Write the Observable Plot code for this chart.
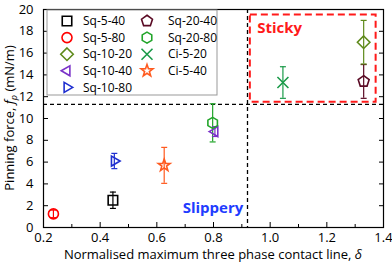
<!DOCTYPE html>
<html><head><meta charset="utf-8">
<script src="https://cdn.jsdelivr.net/npm/d3@7"></script>
<script src="https://cdn.jsdelivr.net/npm/@observablehq/plot@0.6"></script>
<style>body{margin:0;background:#fff}</style>
</head><body><div id="chart"></div>
<script>
// ---- data ----
const series = ["Sq-5-40","Sq-5-80","Sq-10-20","Sq-10-40","Sq-10-80","Sq-20-40","Sq-20-80","Ci-5-20","Ci-5-40"];
const delta  = [0.445, 0.235, 1.33, 0.805, 0.45, 1.33, 0.797, 1.045, 0.626];
const force  = [2.5, 1.25, 17.0, 8.8, 6.1, 13.4, 9.6, 13.3, 5.7];
const errors = [0.75, 0.35, 2.0, 0.45, 0.7, 1.55, 1.75, 1.45, 1.65];
const colors = ["#000000","#ff0000","#5e8a1a","#7a32c8","#1f2fd0","#5a0a24","#22a52a","#1a9a48","#ff5a1f"];
const shapes = ["square","circle","diamond","triLeft","triRight","pentagon","hexagon","times","star"];
const xTicks = [0.2,0.4,0.6,0.8,1.0,1.2,1.4];
const xMinor = [0.3,0.5,0.7,0.9,1.1,1.3];
const yTicks = [0,2,4,6,8,10,12,14,16,18,20];
const thresholdForce = [11.3];
const thresholdDelta = [0.92];
const stickyBox = [{x1:0.93, x2:1.374, y1:11.5, y2:19.5}];
const stickyNote = [{x:0.954, y:18.3, t:"Sticky"}];
const slipperyNote = [{x:0.905, y:1.75, t:"Slippery"}];

// ---- custom symbols ----
function poly(pts){return {draw(ctx,size){const r=Math.sqrt(size/Math.PI);pts.forEach(([a,b],i)=>i?ctx.lineTo(a*r,b*r):ctx.moveTo(a*r,b*r));ctx.closePath();}};}
function regular(n,rot,k){return poly(d3.range(n).map(i=>{const a=rot+2*Math.PI*i/n;return [k*Math.cos(a),k*Math.sin(a)];}));}
const SYM = {
  square: poly([[-0.95,-0.95],[0.95,-0.95],[0.95,0.95],[-0.95,0.95]]),
  circle: {draw(ctx,size){const r=Math.sqrt(size/Math.PI);ctx.moveTo(r,0);ctx.arc(0,0,r,0,2*Math.PI);}},
  diamond: poly([[0,-1.25],[1.25,0],[0,1.25],[-1.25,0]]),
  triLeft: regular(3,Math.PI,1.15),
  triRight: regular(3,0,1.15),
  pentagon: regular(5,-Math.PI/2,1.15),
  hexagon: regular(6,-Math.PI/2,1.1),
  times: {draw(ctx,size){const a=Math.sqrt(size/Math.PI)*1.1;ctx.moveTo(-a,-a);ctx.lineTo(a,a);ctx.moveTo(-a,a);ctx.lineTo(a,-a);}},
  star: poly(d3.range(10).map(i=>{const a=-Math.PI/2+Math.PI*i/5;const k=i%2?0.5:1.25;return [k*Math.cos(a),k*Math.sin(a)];}))
};
const CAP = {draw(ctx){ctx.moveTo(-3,0);ctx.lineTo(3,0);}};

const data = series.map((s,i)=>({s, x:delta[i], y:force[i], e:errors[i], c:colors[i], sym:SYM[shapes[i]]}));

const marks = [
  Plot.ruleY(thresholdForce, {stroke:"#000", strokeWidth:1.3, strokeDasharray:"4,3"}),
  Plot.ruleX(thresholdDelta, {stroke:"#000", strokeWidth:1.3, strokeDasharray:"4,3"}),
  Plot.rect(stickyBox, {x1:"x1", x2:"x2", y1:"y1", y2:"y2", fill:"none", stroke:"#ff1a1a", strokeWidth:2, strokeDasharray:"7,4"}),
  Plot.ruleX(data, {x:"x", y1:d=>d.y-d.e, y2:d=>d.y+d.e, stroke:"c", strokeWidth:1.2}),
  Plot.dot(data, {x:"x", y:d=>d.y+d.e, stroke:"c", symbol:CAP, strokeWidth:1.2}),
  Plot.dot(data, {x:"x", y:d=>d.y-d.e, stroke:"c", symbol:CAP, strokeWidth:1.2}),
  ...data.map(d=>Plot.dot([d], {x:"x", y:"y", r:5, symbol:d.sym, stroke:d.c, fill:"none", strokeWidth:1.6})),
  Plot.text(stickyNote, {x:"x", y:"y", text:"t", fill:"#ff1a1a", textAnchor:"start", fontWeight:"bold", fontSize:15}),
  Plot.text(slipperyNote, {x:"x", y:"y", text:"t", fill:"#1f3cff", textAnchor:"end", fontWeight:"bold", fontSize:15}),
  Plot.axisX({ticks:xTicks, tickSize:0, tickPadding:5, tickFormat:d3.format(".1f"), label:null}),
  Plot.axisX({ticks:xTicks, tickSize:-5, text:null, label:null}),
  Plot.axisX({ticks:xMinor, tickSize:-3, text:null, label:null}),
  Plot.axisY({ticks:yTicks, tickSize:0, tickPadding:10, tickFormat:d3.format("d"), label:null}),
  Plot.axisY({ticks:yTicks, tickSize:-5, text:null, label:null}),
  Plot.axisY({ticks:yTicks, anchor:"right", tickSize:-5, text:null, label:null}),
  Plot.frame({stroke:"#000", strokeWidth:1.2})
];

const chart = Plot.plot({
  width:392, height:267,
  marginLeft:43, marginRight:9, marginTop:9, marginBottom:40,
  x:{domain:[0.2,1.4]},
  y:{domain:[0,20]},
  style:{fontFamily:"Open Sans", fontSize:"13px", color:"#000", background:"#fff"},
  marks
});
document.getElementById("chart").appendChild(chart);

// ---- axis titles ----
const svg = d3.select(chart);
const xs = chart.scale("x"), ys = chart.scale("y");
const cx = (xs.range[0]+xs.range[1])/2, cy = (ys.range[0]+ys.range[1])/2;
const xt = svg.append("text").attr("x",cx).attr("y",259).attr("text-anchor","middle")
  .attr("font-family","Open Sans").attr("font-size",13).attr("fill","#000");
xt.append("tspan").text("Normalised maximum three phase contact line, ");
xt.append("tspan").attr("font-style","italic").text("δ");
const yt = svg.append("text").attr("transform",`translate(14,${cy}) rotate(-90)`).attr("text-anchor","middle")
  .attr("font-family","Open Sans").attr("font-size",13).attr("fill","#000");
yt.append("tspan").text("Pinning force, ");
yt.append("tspan").attr("font-style","italic").text("f");
yt.append("tspan").attr("font-style","italic").attr("font-size",9).attr("dy",3).text("p");
yt.append("tspan").attr("dy",-3).text(" (mN/m)");

// ---- legend ----
const lg = svg.append("g").attr("text-anchor","start");
lg.append("rect").attr("x",47).attr("y",10).attr("width",170).attr("height",85)
  .attr("fill","#fff").attr("stroke","#999").attr("stroke-width",1);
data.forEach((d,i)=>{
  const col = i<5?0:1, row = i<5?i:i-5;
  const mx = [67,147][col], tx = [83,168][col], y = 21+16.6*row;
  lg.append("path").attr("d", d3.symbol(d.sym, 25*Math.PI)()).attr("transform",`translate(${mx},${y})`)
    .attr("fill","none").attr("stroke",d.c).attr("stroke-width",1.6);
  lg.append("text").attr("x",tx).attr("y",y).attr("dy","0.35em").attr("text-anchor","start")
    .attr("font-family","Open Sans").attr("font-size",12).attr("fill","#000").text(d.s);
});
</script>
</body></html>
